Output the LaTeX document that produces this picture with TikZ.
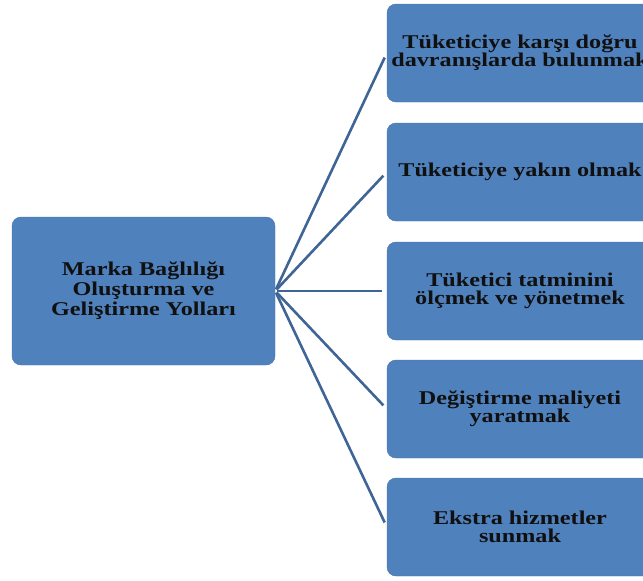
\documentclass[tikz,border=0pt]{standalone}
\usepackage{fontspec}
\setmainfont{Liberation Serif}[FakeStretch=1.24]
\definecolor{boxblue}{HTML}{4F81BD}
\definecolor{linkblue}{HTML}{3F6496}
\definecolor{txt}{HTML}{101010}
\begin{document}
\begin{tikzpicture}[x=1pt,y=-1pt,
  bx/.style={draw=boxblue!90!black, line width=0.4pt, fill=boxblue, rounded corners=9pt,
    inner sep=0pt, align=center, text=txt, font=\bfseries\fontsize{19.5}{18}\selectfont},
  link/.style={draw=linkblue, line width=2.6pt, shorten <=2pt, shorten >=5pt}]
\useasboundingbox (0,0) rectangle (643,581);
\node[bx, minimum width=263pt, minimum height=148pt, font=\bfseries\fontsize{19.5}{20}\selectfont] (m) at (143.5,291)
  {Marka Bağlılığı\\Oluşturma ve\\Geliştirme Yolları};
\node[bx, minimum width=266pt, minimum height=98pt] (b1) at (520,53)
  {Tüketiciye karşı doğru\\davranışlarda bulunmak};
\node[bx, minimum width=266pt, minimum height=98pt] (b2) at (520,172)
  {Tüketiciye yakın olmak};
\node[bx, minimum width=266pt, minimum height=98pt] (b3) at (520,291)
  {Tüketici tatminini\\ölçmek ve yönetmek};
\node[bx, minimum width=266pt, minimum height=98pt] (b4) at (520,409)
  {Değiştirme maliyeti\\yaratmak};
\node[bx, minimum width=266pt, minimum height=98pt] (b5) at (520,527)
  {Ekstra hizmetler\\sunmak};
\foreach \b in {b1,b2,b3,b4,b5}
  \draw[link] (m.east) -- (\b.west);
\end{tikzpicture}
\end{document}
